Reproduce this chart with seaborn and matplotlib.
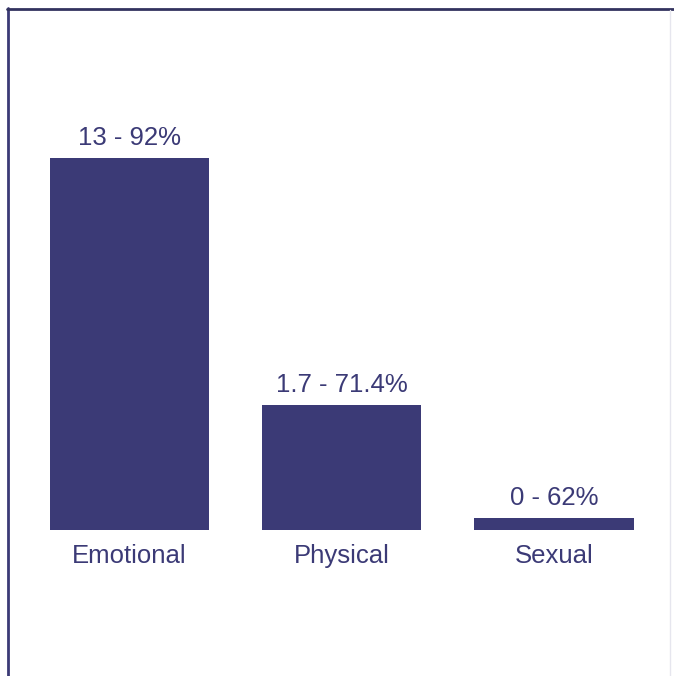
import matplotlib
matplotlib.use("Agg")
import matplotlib.pyplot as plt
import seaborn as sns
import pandas as pd
from matplotlib.lines import Line2D

categories = ["Emotional", "Physical", "Sexual"]
bar_heights = [372, 125, 12]
range_labels = ["13 - 92%", "1.7 - 71.4%", "0 - 62%"]

sns.set_theme(style="white")
plt.rcParams["font.family"] = ["Liberation Sans", "DejaVu Sans"]

navy = "#3b3a76"
df = pd.DataFrame({"cat": categories, "h": bar_heights})

fig = plt.figure(figsize=(6.74, 6.76), dpi=100)
fig.patch.set_facecolor("white")
ax = fig.add_axes([0, 0, 1, 1])
sns.barplot(data=df, x="cat", y="h", color=navy, saturation=1, width=0.75, ax=ax)
ax.set_xlim(-0.610, 2.565)
ax.set_ylim(-146, 530)
for p in ax.patches:
    p.set_edgecolor("none")

for p, lab in zip(ax.patches, range_labels):
    ax.annotate(lab, (p.get_x() + p.get_width() / 2, p.get_height()),
                xytext=(0, 6), textcoords="offset points",
                ha="center", va="bottom", fontsize=18.5, color=navy)

for s in ax.spines.values():
    s.set_visible(False)
ax.spines["bottom"].set_position(("data", 0))
ax.set_yticks([])
ax.set_xlabel("")
ax.set_ylabel("")
ax.tick_params(axis="x", length=0, pad=10, labelsize=18.5, labelcolor=navy)

# frame lines
W, H = 674, 676
fig.add_artist(Line2D([7.5 / W, 7.5 / W], [0, 1 - 8 / H], color=navy, lw=2.0, transform=fig.transFigure))
fig.add_artist(Line2D([6.5 / W, 1], [1 - 8.5 / H, 1 - 8.5 / H], color="#33335f", lw=2.0, transform=fig.transFigure))
fig.add_artist(Line2D([669.5 / W, 669.5 / W], [0, 1 - 10 / H], color="#e6e6ee", lw=1.0, transform=fig.transFigure))

fig.savefig("out.png", dpi=100, facecolor="white")
